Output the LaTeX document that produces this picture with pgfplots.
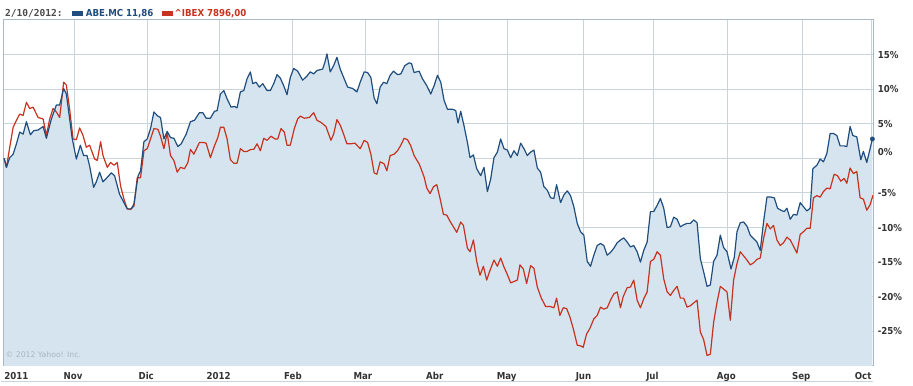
\documentclass[border=0pt]{standalone}
\usepackage{fontspec}
\setmainfont{DejaVu Sans}
\newfontfamily\cond{DejaVu Sans Condensed}
\newfontfamily\mono{DejaVu Sans Mono}
\usepackage{pgfplots}
\usepackage{pgfplotstable}
\usepgfplotslibrary{fillbetween}
\pgfplotsset{compat=1.18}
\definecolor{abeblue}{HTML}{1F4E7E}
\definecolor{ibexred}{HTML}{C8321E}
\definecolor{areablue}{HTML}{D6E4EF}
\definecolor{gridc}{HTML}{CAD4DC}
\definecolor{framec}{HTML}{A9B9C6}
\definecolor{labc}{HTML}{333333}
\definecolor{legc}{HTML}{4A4A4A}
\definecolor{copyc}{HTML}{A8B6C2}

\pgfplotstableread{
x y
2.7 0
5 -1.3
8.3 0.1
11.7 0.6
15 2.1
18.3 3.8
21.7 3.5
25 5.3
29 3.4
32.3 4.0
36.7 4.1
41.7 4.6
45 2.9
50 5.7
55 7.7
58.3 7.7
62.3 10.1
65 9.3
68.3 5.7
70.7 3.0
75 -0.1
79 1.9
82.3 0.4
85.7 0.4
88.3 -1.1
92.3 -4.2
95 -3.4
98.3 -2.0
101.7 -3.4
105 -2.9
110 -2.1
113.3 -2.5
118.3 -5.2
122.7 -6.4
126 -7.3
130 -7.3
132.7 -6.6
136.7 -2.6
139.3 -1.8
142.7 2.4
146 2.8
149.3 4.3
152.7 6.7
156.7 6.1
159.3 5.9
162.7 2.8
166 3.9
169.3 3.0
172.7 2.9
176.7 1.7
180 2.1
185 3.5
189.3 5.3
193.3 5.5
198.3 6.6
201.7 6.6
205 5.8
209.3 5.8
213.3 6.8
216 6.9
219.3 9.3
222.7 9.8
226 8.6
230 7.4
233.3 7.5
236 7.3
239.3 9.6
242.7 9.8
246 11.5
249.3 12.5
251.7 10.8
255 11.0
258.3 10.3
261.7 10.8
266 9.8
269.3 9.8
272.7 10.8
276 12.1
279.3 11.6
282.7 10.5
286 9.2
289.3 11.7
292.7 13.0
296.7 12.6
301.7 11.3
306 11.9
309.3 12.5
312.7 12.2
316 12.7
321.7 12.9
324 13.9
326 15.1
329.3 12.5
332.7 13.4
336 14.6
339.3 12.9
342.7 11.7
346.7 10.3
351.7 10.1
356 9.6
359.3 11.0
363.3 12.5
366.7 12.4
370 11.7
373.3 8.7
376 7.9
379.3 10.3
382.7 11.0
386 10.8
389.3 12.0
392.7 12.6
396.7 12.1
400 12.2
404 13.4
408.3 13.8
410.7 13.7
413.3 12.4
418.3 12.6
421.7 11.5
426 10.5
430 9.3
433.3 10.5
436.7 12.0
440 11.0
443.3 8.4
446.7 7.1
451.7 7.1
455 6.9
457.3 5.1
460 6.8
463.3 4.7
466.7 2.3
469.3 0.1
472.7 0.5
476 -1.5
480 -2.5
483.3 -1.3
486.7 -4.8
490 -3.0
493.3 0.1
496.7 0.9
500 2.8
503.3 1.4
506.7 1.2
510 0.1
513.3 1.1
516.7 0.4
520 2.2
523.3 1.4
526.7 0.4
530 0.9
533.3 1.2
536.7 -1.4
540 -2.0
543.3 -4.1
546.7 -4.6
550 -5.7
553.3 -5.8
556 -3.8
560 -6.4
563.3 -5.3
566.7 -4.7
570 -5.4
573.3 -7.0
576.7 -9.4
580 -10.6
583.3 -11.1
586.7 -14.9
590 -15.6
593.3 -14.0
596.7 -12.6
600 -12.3
603.3 -12.6
606.7 -14.0
610 -13.6
613.3 -13.0
616.7 -12.2
620 -11.8
623.3 -11.5
626.7 -12.1
630 -12.8
633.3 -12.6
636.7 -13.5
640 -15.0
643.3 -13.3
646.7 -12.1
650 -7.7
653.3 -7.7
656.7 -6.8
660 -5.8
663.3 -7.2
666.7 -10.0
670 -9.9
673.3 -8.5
676.7 -8.8
680 -9.9
683.3 -9.6
686.7 -9.4
690 -9.4
693.3 -8.9
696.7 -9.3
700 -14.5
703.3 -16.4
706.7 -18.5
710 -18.3
713.3 -14.9
716.7 -14.0
720 -11.1
723.3 -12.9
726.7 -13.5
730.7 -16.0
734 -14.3
736.7 -10.6
740 -9.3
743.3 -9.2
746.7 -9.8
750 -11.1
753.3 -11.6
756.7 -12.1
760 -13.3
763.3 -9.2
766.7 -5.6
770.7 -5.6
774 -5.7
777.3 -7.2
780.7 -7.5
784 -7.7
786.7 -7.2
790 -8.8
793.3 -8.1
796.7 -8.2
800 -6.4
803.3 -7.0
806.7 -7.6
810 -7.2
812.7 -1.5
816.7 -1.0
820 -0.1
823.3 -0.5
826.7 0.7
830 3.6
833.3 3.6
836.7 3.3
840 1.8
844 1.8
846.7 1.7
850 4.6
852.7 3.3
856.7 3.1
860.7 -0.2
863.3 1.0
866.7 -0.6
870 1.4
872.3 2.8
}\abe

\pgfplotstableread{
x y
2.7 0
5 -1.3
8.3 1.6
11.7 4.5
15 5.5
18.3 6.4
21.7 6.2
25 8.1
28.3 7.2
31.7 7.4
36.7 5.9
41.7 5.7
45 3.3
48.3 5.7
51.7 7.2
55 6.7
58.3 5.9
62.3 11.0
65 10.6
68.3 7.1
71.7 2.8
75 2.7
78.3 4.4
81.7 3.3
85 1.6
88.3 1.9
93.3 -0.1
96 -0.3
99.3 2.4
101.7 0.4
106 -1.3
109.3 -0.6
112.7 -1.0
116 -0.6
119.3 -4.0
122.7 -5.9
126 -7.3
129.3 -7.4
132.7 -6.9
136 -2.8
139.3 -2.8
142.7 1.1
146 1.4
149.3 2.8
152.7 4.3
156.7 4.2
159.3 3.2
162.7 1.4
166 3.7
169.3 0.4
172.7 -0.3
176 -2.0
179.3 -1.3
183.3 -1.5
186.7 -0.6
189.3 1.3
192.7 0.6
198.3 2.3
201.7 2.3
205 2.2
209.3 0.1
213.3 1.8
216.7 3.0
219.3 4.5
222.7 4.5
226 2.8
229.3 -0.2
232.7 -0.7
236 -0.7
239.3 1.4
242.7 1.0
246 1.0
250 1.3
252.7 1.3
256 2.1
259.3 1.1
262.7 2.9
266 2.6
270 3.2
274 2.8
276.7 2.8
280 4.3
283.3 3.8
286 1.9
289.3 1.9
293.3 4.3
296.7 5.7
299.3 6.1
303.3 5.8
308.3 5.9
312.7 6.6
316 5.5
320 5.2
325 4.6
330 2.6
332.7 3.5
336 5.6
339.3 4.8
342.7 3.5
346 2.1
350 2.1
354 2.2
359.3 1.4
363.3 2.6
366.7 2.3
370 0.6
373.3 -2.1
376 -2.3
379.3 -0.5
383.3 -0.8
386 -1.8
389.3 0.4
393.3 0.6
396.7 1.1
400 1.9
403.3 2.9
406.7 2.7
410 1.8
413.3 0.4
418.3 -0.8
420 -1.4
423.3 -2.7
426 -4.3
429.3 -5.1
432.7 -4.1
436 -3.8
439.3 -5.8
442.7 -8.1
446 -8.2
449.3 -9.1
452.7 -9.9
456 -10.7
460 -9.2
462.7 -9.7
466.7 -13.0
469.3 -13.5
472.7 -11.8
476 -14.9
479.3 -16.9
482.7 -15.6
486 -17.6
489.3 -16.2
493.3 -14.7
496.7 -15.6
500 -14.4
503.3 -15.7
506.7 -16.8
510 -18.0
513.3 -17.8
516.7 -17.6
519.3 -15.4
522.7 -16.0
526 -18.1
530 -15.5
533.3 -15.9
536.7 -18.6
540.7 -20.2
545 -21.4
549.3 -21.4
553.3 -21.6
556 -20.2
559.3 -22.7
562.7 -21.6
566 -21.7
569.3 -22.9
572.7 -24.6
576.7 -27.0
580 -27.1
582.7 -27.3
586 -25.4
589.3 -24.6
593.3 -23.2
596.7 -22.7
600 -21.5
603.3 -21.8
606.7 -21.6
610 -20.5
613.3 -19.6
616.7 -19.3
620 -21.6
622.7 -20.0
626.7 -18.7
630 -18.6
633.3 -17.6
636.7 -20.5
640 -21.6
643.3 -20.3
646.7 -19.3
650 -14.9
653.3 -14.6
656.7 -13.5
660 -14.0
663.3 -17.4
666.7 -19.3
670 -19.8
673.3 -19.1
676.7 -18.5
680 -20.2
683.3 -20.2
686.7 -21.5
690 -21.3
693.3 -20.9
696.7 -20.5
700 -25.1
703.3 -26.2
706.7 -28.5
710 -28.3
713.3 -23.7
716.7 -20.8
720 -18.5
723.3 -18.9
726.7 -19.3
730 -23.4
733.3 -17.6
736.7 -15.2
740 -13.5
743.3 -14.1
746.7 -14.7
750 -15.4
753.3 -15.1
756.7 -14.6
760 -14.4
763.3 -11.6
766.7 -9.4
770 -10.2
773.3 -9.7
776.7 -11.8
780 -12.6
783.3 -12.2
786.7 -11.4
790 -11.8
793.3 -12.7
796.7 -13.7
800 -11.0
803.3 -10.6
806.7 -10.1
810 -10.1
813.3 -5.7
816.7 -5.4
820 -5.6
823.3 -4.8
826.7 -4.3
830 -4.4
834 -2.3
837.3 -2.5
840.7 -3.3
844 -2.9
846.7 -3.6
850 -1.4
853.3 -2.2
856.7 -1.9
860 -5.7
863.3 -5.9
866.7 -7.5
870 -6.7
873 -5.3
}\ibex

\begin{document}
\begin{tikzpicture}
\path (0,0) rectangle (684.75pt,287.25pt);
\draw[gridc, line width=0.75pt] (0,1pt) -- (654.75pt,1pt);
\begin{axis}[
  at={(1.5pt,12.375pt)}, anchor=south west,
  scale only axis, width=653.25pt, height=259.875pt,
  xmin=2, xmax=873, ymin=-30, ymax=20,
  axis line style={framec, line width=0.75pt},
  major tick length=0pt,
  grid=major,
  major grid style={gridc, line width=0.75pt},
  xtick={73,146,218,291,365,438,507,583,653,727,802,871},
  xticklabels={},
  extra x ticks={15,71.7,145,217.5,292,362,434,506,583,652,726,801,863},
  extra x tick labels={2011,Nov,Dic,2012,Feb,Mar,Abr,May,Jun,Jul,Ago,Sep,Oct},
  extra x tick style={grid=none, major tick length=0pt},
  xticklabel style={font=\cond\bfseries\fontsize{7.2}{8}\selectfont, text=labc, yshift=-1.2pt},
  ytick={-25,-20,-15,-10,-5,5,10,15},
  yticklabels={-25\%,-20\%,-15\%,-10\%,-5\%,5\%,10\%,15\%},
  extra y ticks={0},
  extra y tick labels={0\%},
  extra y tick style={grid=major, major tick length=0pt, yticklabel style={yshift=5pt}},
  yticklabel pos=right,
  yticklabel style={font=\cond\bfseries\fontsize{7.2}{8}\selectfont, text=labc},
  clip=true,
]
\addplot[draw=none, name path=abeline, forget plot] table[x=x,y=y] {\abe};
\path[name path=bottomline] (axis cs:2.7,-30) -- (axis cs:872.3,-30);
\addplot[areablue, draw=none, forget plot] fill between[of=abeline and bottomline];
\addplot[ibexred, line width=0.9pt, line join=round] table[x=x,y=y] {\ibex};
\addplot[abeblue, line width=0.9pt, line join=round] table[x=x,y=y] {\abe};
\addplot[abeblue, only marks, mark=*, mark size=1.6pt] coordinates {(872.3,2.8)};
\node[anchor=west, inner sep=0pt, font=\fontsize{5.8}{7}\selectfont, text=copyc] at (axis cs:4,-28.4) {© 2012 Yahoo! Inc.};
\end{axis}
\node[anchor=base west, inner sep=0pt, font=\mono\bfseries\fontsize{7.2}{8}\selectfont, text=legc] at (2.5pt,274.7pt) {2/10/2012:};
\fill[abeblue] (53.25pt,275.3pt) rectangle (61.5pt,278.8pt);
\node[anchor=base west, inner sep=0pt, font=\cond\bfseries\fontsize{7.2}{8}\selectfont, text=abeblue] at (63.2pt,274.7pt) {ABE.MC 11,86};
\fill[ibexred] (120.75pt,275.3pt) rectangle (129pt,278.8pt);
\node[anchor=base west, inner sep=0pt, font=\cond\bfseries\fontsize{7.2}{8}\selectfont, text=ibexred] at (129.9pt,274.7pt) {\textasciicircum IBEX 7896,00};
\end{tikzpicture}
\end{document}
